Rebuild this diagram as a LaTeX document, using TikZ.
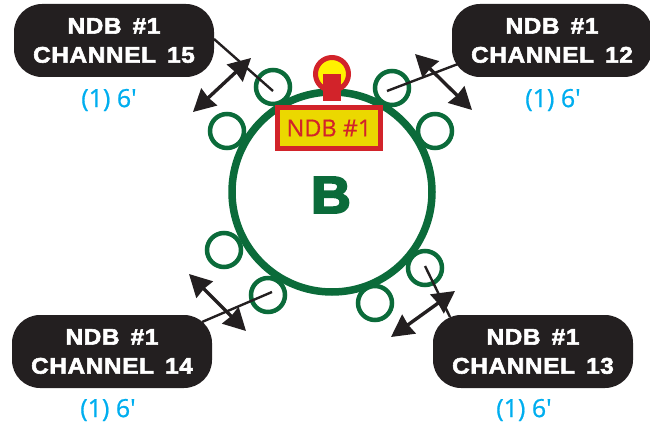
\documentclass[tikz,border=0pt]{standalone}
\usepackage{fontspec}
\setmainfont{Open Sans}
\newfontfamily\heavy{Liberation Sans Bold}[FakeStretch=1.08,FakeBold=2.6,LetterSpace=3,WordSpace=1.5]
\newfontfamily\heavyB{Liberation Sans Bold}[FakeStretch=1.06,FakeBold=4]
\newfontfamily\sizefont{Open Sans}[FakeBold=0.8]
\newfontfamily\platefont{Open Sans}[FakeBold=0.5]
\usetikzlibrary{arrows.meta}
\definecolor{ringgreen}{HTML}{0B6B3A}
\definecolor{ndbred}{HTML}{D2232A}
\definecolor{ndbyellow}{HTML}{EBD800}
\definecolor{lampyellow}{HTML}{FFF200}
\definecolor{inkblack}{HTML}{231F20}
\definecolor{cyanlabel}{HTML}{00AEEF}
\tikzset{
  x=1pt,y=-1pt,
  ring/.style={circle,draw=ringgreen,line width=7.5pt,minimum size=200pt,inner sep=0pt},
  seat/.style={circle,draw=ringgreen,fill=white,line width=4.5pt,minimum size=34pt,inner sep=0pt},
  channel/.style={rectangle,rounded corners=28pt,fill=inkblack,text=white,minimum width=200pt,minimum height=73pt,inner sep=0pt,align=center,font=\heavy\fontsize{22.5}{29}\selectfont},
  size/.style={text=cyanlabel,font=\sizefont\fontsize{25}{28}\selectfont,inner sep=0pt},
  lead/.style={draw=inkblack,line width=2.4pt},
  swing/.style={draw=inkblack,line width=3.4pt,{Stealth[length=22pt,width=23pt,inset=1pt]}-{Stealth[length=22pt,width=23pt,inset=1pt]}},
  ndbplate/.style={rectangle,draw=ndbred,fill=ndbyellow,line width=5pt,minimum width=103pt,minimum height=41pt,inner sep=0pt,text=ndbred,font=\platefont\fontsize{23.5}{26}\selectfont},
  lamp/.style={circle,draw=ndbred,fill=lampyellow,line width=5pt,minimum size=33pt,inner sep=0pt},
  post/.style={rectangle,fill=ndbred,minimum width=18pt,minimum height=27pt,inner sep=0pt}
}
\begin{document}
\begin{tikzpicture}
\useasboundingbox (0,0) rectangle (650,425);
\node[ring] (main) at (332,192) {};
\node[seat] (s1) at (273,87) {};
\node[seat] (s2) at (392,88) {};
\node[seat] (s3) at (227,131) {};
\node[seat] (s4) at (435,131) {};
\node[seat] (s5) at (224,250) {};
\node[seat] (s6) at (268,295) {};
\node[seat] (s7) at (375,303) {};
\node[seat] (s8) at (425,268) {};
\node[lamp] (lamp) at (332,74) {};
\node[post] (post) at (332,87.5) {};
\node[ndbplate] (plate) at (329,128) {NDB \#1};
\node[channel] (tl) at (114,40.5) {NDB \#1\\CHANNEL 15};
\node[channel] (tr) at (552,40.5) {NDB \#1\\CHANNEL 12};
\node[channel] (bl) at (112,351.5) {NDB \#1\\CHANNEL 14};
\node[channel] (br) at (533,351.5) {NDB \#1\\CHANNEL 13};
\node[size] (ltl) at (109,100) {(1) 6′};
\node[size] (ltr) at (553,100) {(1) 6′};
\node[size] (lbl) at (108,410) {(1) 6′};
\node[size] (lbr) at (524,410) {(1) 6′};
\node[text=ringgreen,font=\heavyB\fontsize{52}{52}\selectfont,inner sep=0pt] (bname) at (331,195) {B};
\coordinate (e1) at (273,91); \coordinate (b1) at (214,39);
\coordinate (e2) at (387,91); \coordinate (b2) at (458,64);
\coordinate (e3) at (272,292); \coordinate (b3) at (202,322);
\coordinate (e4) at (425,266); \coordinate (b4) at (450,317);
\draw[lead] (b1) -- (e1);
\draw[lead] (b2) -- (e2);
\draw[lead] (b3) -- (e3);
\draw[lead] (b4) -- (e4);
\coordinate (a1) at (193,112); \coordinate (c1) at (251,58);
\coordinate (a2) at (415,54); \coordinate (c2) at (472,110);
\coordinate (a3) at (189,274); \coordinate (c3) at (246,331);
\coordinate (a4) at (455,291); \coordinate (c4) at (391,337);
\draw[swing] (a1) -- (c1);
\draw[swing] (a2) -- (c2);
\draw[swing] (a3) -- (c3);
\draw[swing] (a4) -- (c4);
\end{tikzpicture}
\end{document}
